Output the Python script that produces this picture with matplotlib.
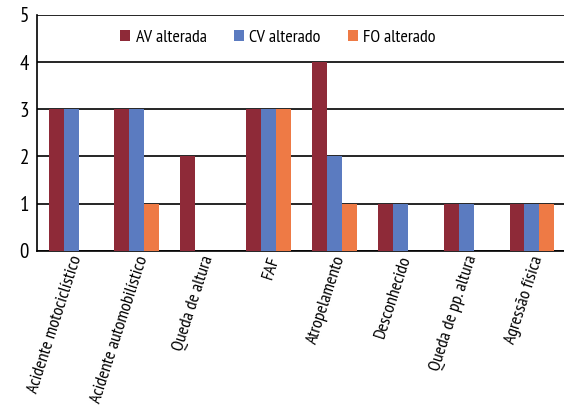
import numpy as np
import matplotlib
matplotlib.use("Agg")
import matplotlib.pyplot as plt
from matplotlib import font_manager

categories = ["Acidente motociclístico", "Acidente automobilístico", "Queda de altura",
              "FAF", "Atropelamento", "Desconhecido", "Queda de pp. altura", "Agressão física"]
av_alterada = [3, 3, 2, 3, 4, 1, 1, 1]
cv_alterado = [3, 3, 0, 3, 2, 1, 1, 1]
fo_alterado = [0, 1, 0, 3, 1, 0, 0, 1]
series_names = ["AV alterada", "CV alterado", "FO alterado"]
colors = ["#8E2A38", "#5B7BC0", "#EE7A45"]

# condensed font, close to the original's narrow face
names = {f.name for f in font_manager.fontManager.ttflist}
font = "DejaVu Sans"
for cand in ["PT Sans Narrow", "Fira Sans Condensed", "Roboto Condensed",
             "Open Sans Condensed", "Archivo Narrow", "Liberation Sans Narrow"]:
    if cand in names:
        font = cand
        break
plt.rcParams["font.family"] = [font, "DejaVu Sans"]

fig = plt.figure(figsize=(5.64, 4.12), dpi=100)
ax = fig.add_axes([0.066, 0.391, 0.934, 0.573])

x = np.arange(len(categories))
w = 0.227
for i, (vals, name) in enumerate(zip([av_alterada, cv_alterado, fo_alterado], series_names)):
    ax.bar(x - 0.327 + w / 2 + i * w, vals, w, color=colors[i], label=name, zorder=3)

ax.set_xlim(-0.5, len(categories) - 0.5)
ax.set_ylim(0, 5)
ax.set_yticks(range(6))
ax.yaxis.grid(True, color="black", linewidth=1.2, zorder=0)
for s in ["top", "right"]:
    ax.spines[s].set_visible(False)
ax.spines["left"].set_linewidth(1.2)
ax.spines["bottom"].set_linewidth(1.2)
ax.tick_params(axis="y", length=0, labelsize=15, pad=6)
ax.tick_params(axis="x", length=0, pad=2)
ax.set_xticks(x)
ax.set_xticklabels(categories, rotation=72, ha="right", rotation_mode="anchor", fontsize=13)

ax.legend(loc="upper left", bbox_to_anchor=(0.127, 1.005), ncol=3, frameon=False,
          fontsize=13, handlelength=0.55, handleheight=0.55, columnspacing=1.5, handletextpad=0.3)

fig.savefig("out.png", dpi=100)
